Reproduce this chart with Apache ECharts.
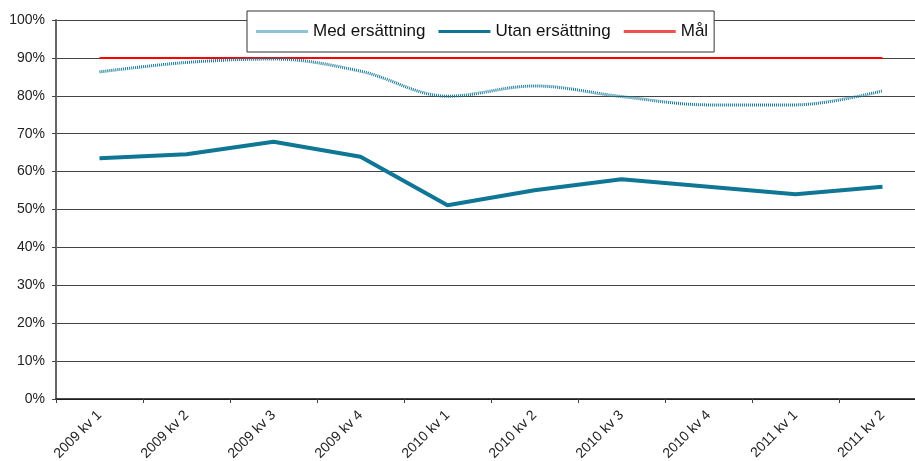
<!DOCTYPE html>
<html>
<head>
<meta charset="utf-8">
<script src="https://cdn.jsdelivr.net/npm/echarts@6/dist/echarts.min.js"></script>
<style>
    html, body { margin: 0; padding: 0; background: #fff; overflow: hidden; }
    #chart { width: 915px; height: 461px; }
</style>
</head>
<body>
<div id="chart"></div>
<script>
// kvartal
var categories = ['2009 kv 1', '2009 kv 2', '2009 kv 3', '2009 kv 4', '2010 kv 1',
                  '2010 kv 2', '2010 kv 3', '2010 kv 4', '2011 kv 1', '2011 kv 2'];
// andel i procent
var medErsattning  = [86.3, 88.8, 89.7, 86.5, 79.9, 82.6, 79.8, 77.6, 77.6, 81.3];
var utanErsattning = [63.5, 64.6, 67.9, 63.9, 51.1, 55.1, 58.0, 56.0, 54.0, 56.0];
var mal            = [90, 90, 90, 90, 90, 90, 90, 90, 90, 90];

var fontFamily = 'Liberation Sans, Arial, sans-serif';

var option = {
    animation: false,
    backgroundColor: '#fff',
    textStyle: { fontFamily: fontFamily },
    legend: {
        left: 247,
        top: 11,
        padding: [11, 6, 11, 9],
        itemGap: 13,
        itemWidth: 52,
        itemHeight: 3,
        backgroundColor: '#fff',
        borderColor: '#333',
        borderWidth: 1,
        textStyle: { fontSize: 17, color: '#111', fontFamily: fontFamily, lineHeight: 19 },
        data: [
            { name: 'Med ersättning', icon: 'rect', itemStyle: { color: '#8cc4d6' } },
            { name: 'Utan ersättning', icon: 'rect', itemStyle: { color: '#0f7696' } },
            { name: 'Mål', icon: 'rect', itemStyle: { color: '#f05050' } }
        ]
    },
    grid: {
        // plot runs a bit past the right edge, as in the original
        left: 56,
        top: 20,
        width: 870,
        height: 379,
        outerBoundsMode: 'none',
        containLabel: false
    },
    xAxis: {
        type: 'category',
        boundaryGap: true,
        data: categories,
        axisLine: { lineStyle: { color: '#111', width: 1.5 } },
        axisTick: { show: true, length: 4, lineStyle: { color: '#444' } },
        axisLabel: {
            rotate: 45,
            interval: 0,
            margin: 14,
            fontSize: 14,
            color: '#222',
            fontFamily: fontFamily
        }
    },
    yAxis: {
        type: 'value',
        min: 0,
        max: 100,
        interval: 10,
        axisLine: { show: true, lineStyle: { color: '#666', width: 2 } },
        axisTick: { show: true, length: 4, lineStyle: { color: '#444' } },
        axisLabel: {
            formatter: '{value}%',
            margin: 11,
            fontSize: 14,
            color: '#222',
            fontFamily: fontFamily
        },
        splitLine: { show: true, lineStyle: { color: '#444', width: 1 } }
    },
    series: [
        {
            name: 'Med ersättning',
            type: 'line',
            data: medErsattning,
            smooth: 0.35,
            symbol: 'none',
            z: 3,
            lineStyle: { color: '#16799a', width: 3, type: [1, 1] },
            itemStyle: { color: '#16799a' }
        },
        {
            name: 'Utan ersättning',
            type: 'line',
            data: utanErsattning,
            symbol: 'none',
            z: 4,
            lineStyle: { color: '#0f7696', width: 4 },
            itemStyle: { color: '#0f7696' }
        },
        {
            name: 'Mål',
            type: 'line',
            data: mal,
            symbol: 'none',
            z: 2,
            lineStyle: { color: '#ff0000', width: 2 },
            itemStyle: { color: '#ff0000' }
        }
    ]
};

var myChart = echarts.init(document.getElementById('chart'));
myChart.setOption(option);
</script>
</body>
</html>
